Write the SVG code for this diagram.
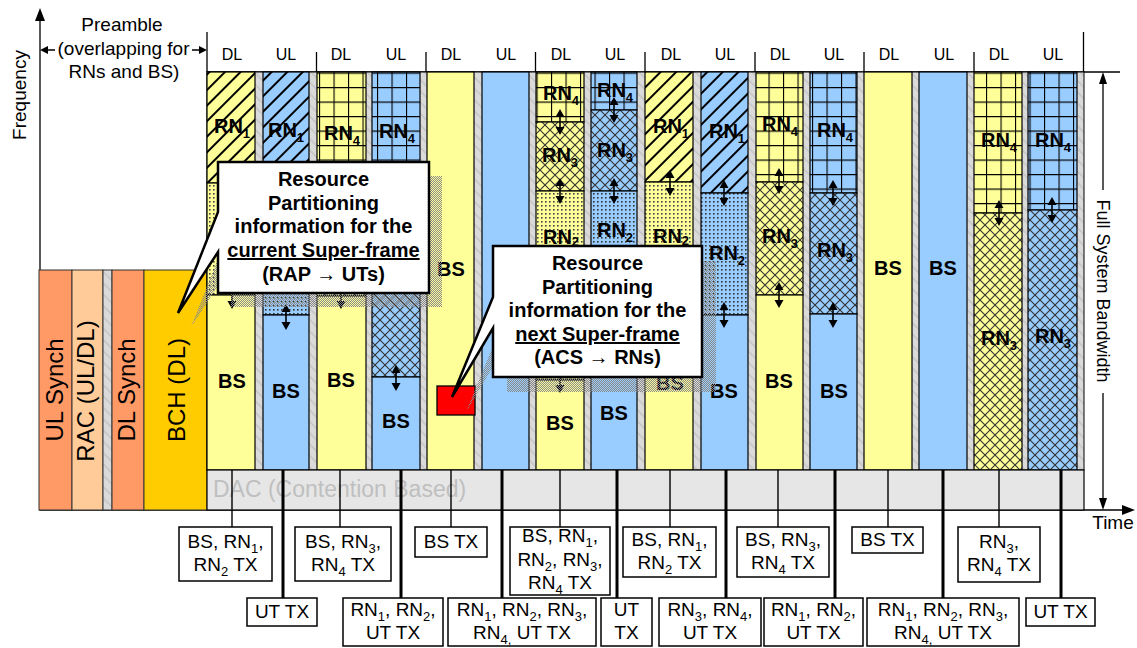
<svg xmlns="http://www.w3.org/2000/svg" xmlns:xlink="http://www.w3.org/1999/xlink" width="1137" height="648" viewBox="0 0 1137 648">
<style>
text{font-family:"Liberation Sans",Arial,sans-serif;fill:#000}
.fy{fill:#ffff99;stroke:#000;stroke-width:1.2}
.fb{fill:#99ccff;stroke:#000;stroke-width:1.2}
.hy{fill:url(#hY);stroke:#000;stroke-width:1.2}
.hb{fill:url(#hB);stroke:#000;stroke-width:1.2}
.gy{fill:url(#gY);stroke:#000;stroke-width:1.2}
.gb{fill:url(#gB);stroke:#000;stroke-width:1.2}
.xy{fill:url(#xY);stroke:#000;stroke-width:1.2}
.xb{fill:url(#xB);stroke:#000;stroke-width:1.2}
.ty{fill:url(#tY);stroke:#000;stroke-width:1.2}
.tb{fill:url(#tB);stroke:#000;stroke-width:1.2}
.cl{font-size:20px;font-weight:bold;text-anchor:middle}
.cs{font-size:13px;font-weight:bold}
.hd{font-size:16px;text-anchor:middle}
.ax{stroke:#000;stroke-width:1.3;fill:none}
.lb{fill:#fff;stroke:#000;stroke-width:1.5}
.lt{font-size:19px;text-anchor:middle}
.s{font-size:13px}
.thin{stroke:#000;stroke-width:1.4}
.thick{stroke:#000;stroke-width:3}
.co{fill:#fff;stroke:#000;stroke-width:2.5;stroke-linejoin:miter}
.sh{fill:url(#shd)}
.ct{font-size:20px;font-weight:bold;text-anchor:middle}
.pre{stroke:#333;stroke-width:1}
.pt{font-size:24px;text-anchor:middle}
</style>
<defs>
<pattern id="hY" patternUnits="userSpaceOnUse" width="11" height="11" patternTransform="rotate(45)"><rect width="11" height="11" fill="#ffff99"/><rect width="2" height="11" fill="#000"/></pattern>
<pattern id="hB" patternUnits="userSpaceOnUse" width="11" height="11" patternTransform="rotate(45)"><rect width="11" height="11" fill="#99ccff"/><rect width="2" height="11" fill="#000"/></pattern>
<pattern id="gY" patternUnits="userSpaceOnUse" width="14.5" height="14.5"><rect width="14.5" height="14.5" fill="#ffff99"/><path d="M0,0H14.5M0,0V14.5" stroke="#000" stroke-width="2.2"/></pattern>
<pattern id="gB" patternUnits="userSpaceOnUse" width="14.5" height="14.5"><rect width="14.5" height="14.5" fill="#99ccff"/><path d="M0,0H14.5M0,0V14.5" stroke="#000" stroke-width="2.2"/></pattern>
<pattern id="xY" patternUnits="userSpaceOnUse" width="10" height="10"><rect width="10" height="10" fill="#ffff99"/><path d="M-1,-1L11,11M11,-1L-1,11" stroke="#333" stroke-width="1.1"/></pattern>
<pattern id="xB" patternUnits="userSpaceOnUse" width="10" height="10"><rect width="10" height="10" fill="#99ccff"/><path d="M-1,-1L11,11M11,-1L-1,11" stroke="#333" stroke-width="1.1"/></pattern>
<pattern id="tY" patternUnits="userSpaceOnUse" width="4" height="4"><rect width="4" height="4" fill="#ffff99"/><rect x="1" y="1" width="1.6" height="1.6" fill="#444"/></pattern>
<pattern id="tB" patternUnits="userSpaceOnUse" width="4" height="4"><rect width="4" height="4" fill="#99ccff"/><rect x="1" y="1" width="1.6" height="1.6" fill="#333"/></pattern>
<pattern id="gp" patternUnits="userSpaceOnUse" width="8" height="8" patternTransform="rotate(-45)"><rect width="8" height="8" fill="#dadada"/><rect width="1.5" height="8" fill="#c4c4c4"/></pattern>
<pattern id="shd" patternUnits="userSpaceOnUse" width="2" height="2"><rect width="1" height="1" fill="#8a8a8a"/><rect x="1" y="1" width="1" height="1" fill="#8a8a8a"/></pattern>
<g id="da"><path d="M0,-8V8" stroke="#000" stroke-width="1.6"/><path d="M0,-13L-4.5,-5H4.5ZM0,13L-4.5,5H4.5Z" fill="#000"/></g>
</defs>

<rect width="1137" height="648" fill="#fff"/>

<!-- axes -->
<g id="axes">
<path class="ax" d="M40,18V510H1125"/>
<path d="M40,8L35,21H45Z" fill="#000"/>
<path d="M1135,510L1122,505V515Z" fill="#000"/>
<text transform="translate(26,95) rotate(-90)" font-size="19" text-anchor="middle">Frequency</text>
<text x="1113" y="529" font-size="19" text-anchor="middle">Time</text>
<path class="ax" d="M207,72H1120"/>
<path class="ax" d="M207,32V72M316.5,52V72M426,52V72M535.5,52V72M645,52V72M755,52V72M864,52V72M974,52V72M1083.5,32V72"/>
<path class="ax" d="M1103,80V190M1103,393V502"/>
<path d="M1103,72L1099,84H1107ZM1103,510L1099,498H1107Z" fill="#000"/>
<text transform="translate(1097,291) rotate(90)" font-size="18" text-anchor="middle">Full System Bandwidth</text>
</g>

<!-- preamble label -->
<g id="preamble-label">
<text x="122" y="31" font-size="19" text-anchor="middle">Preamble</text>
<text x="123.5" y="55" font-size="19" text-anchor="middle">(overlapping for</text>
<text x="124" y="78" font-size="19" text-anchor="middle">RNs and BS)</text>
<path class="ax" d="M45,50H55M192,50H202"/>
<path d="M40,50L48,46V54ZM207,50L199,46V54Z" fill="#000"/>
</g>

<!-- header -->
<g id="header">
<text class="hd" x="232" y="60">DL</text><text class="hd" x="286" y="60">UL</text>
<text class="hd" x="341" y="60">DL</text><text class="hd" x="396" y="60">UL</text>
<text class="hd" x="451" y="60">DL</text><text class="hd" x="506" y="60">UL</text>
<text class="hd" x="561" y="60">DL</text><text class="hd" x="615" y="60">UL</text>
<text class="hd" x="671" y="60">DL</text><text class="hd" x="725" y="60">UL</text>
<text class="hd" x="780" y="60">DL</text><text class="hd" x="834" y="60">UL</text>
<text class="hd" x="889" y="60">DL</text><text class="hd" x="944" y="60">UL</text>
<text class="hd" x="999" y="60">DL</text><text class="hd" x="1053" y="60">UL</text>
</g>

<!-- preamble blocks -->
<g id="ul-synch"><rect class="pre" x="39" y="270" width="33" height="240" fill="#ff9966"/><text class="pt" transform="translate(63,390) rotate(-90)">UL Synch</text></g>
<g id="rac"><rect class="pre" x="72" y="270" width="31" height="240" fill="#ffcc99"/><text class="pt" transform="translate(94,391) rotate(-90)">RAC (UL/DL)</text></g>
<g id="pre-gap"><rect class="pre" x="103" y="270" width="9" height="240" fill="url(#gp)"/></g>
<g id="dl-synch"><rect class="pre" x="112" y="270" width="32" height="240" fill="#ff9966"/><text class="pt" transform="translate(135,390) rotate(-90)">DL Synch</text></g>
<g id="bch"><rect class="pre" x="144" y="270" width="63" height="240" fill="#ffcc00"/><text class="pt" transform="translate(185,390) rotate(-90)">BCH (DL)</text></g>

<!-- gap background -->
<rect x="207" y="72" width="877" height="398" fill="url(#gp)" stroke="#000" stroke-width="1"/>

<g id="c1">
<rect class="hy" x="207" y="72" width="48" height="111"/><rect class="ty" x="207" y="183" width="48" height="112"/><rect class="fy" x="207" y="295" width="48" height="175"/>
<text class="cl" x="232" y="133">RN<tspan class="cs" dy="5">1</tspan></text>
<text class="cl" x="232" y="388">BS</text><use href="#da" x="232" y="296"/>
</g>
<g id="c2">
<rect class="hb" x="263" y="72" width="46" height="128"/><rect class="tb" x="263" y="200" width="46" height="115"/><rect class="fb" x="263" y="315" width="46" height="155"/>
<text class="cl" x="286" y="137">RN<tspan class="cs" dy="5">1</tspan></text>
<text class="cl" x="286" y="398">BS</text><use href="#da" x="286" y="317"/>
</g>
<g id="c3">
<rect class="gy" x="317" y="72" width="49" height="128"/><rect class="xy" x="317" y="200" width="49" height="96"/><rect class="fy" x="317" y="296" width="49" height="174"/>
<text class="cl" x="342" y="140">RN<tspan class="cs" dy="5">4</tspan></text>
<text class="cl" x="341" y="387">BS</text><use href="#da" x="341" y="296"/>
</g>
<g id="c4">
<rect class="gb" x="372" y="72" width="48" height="128"/><rect class="xb" x="372" y="200" width="48" height="177"/><rect class="fb" x="372" y="377" width="48" height="93"/>
<text class="cl" x="397" y="138">RN<tspan class="cs" dy="5">4</tspan></text>
<text class="cl" x="396" y="428">BS</text><use href="#da" x="396" y="378"/>
</g>
<g id="c5">
<rect class="fy" x="427" y="72" width="47" height="398"/>
<text class="cl" x="451" y="276">BS</text>
</g>
<g id="c6">
<rect class="fb" x="482" y="72" width="47" height="398"/>
</g>
<g id="c7">
<rect class="gy" x="536" y="72" width="48" height="50"/><rect class="xy" x="536" y="122" width="48" height="69"/><rect class="ty" x="536" y="191" width="48" height="189"/><rect class="fy" x="536" y="380" width="48" height="90"/>
<text class="cl" x="561" y="100">RN<tspan class="cs" dy="5">4</tspan></text>
<text class="cl" x="560" y="162">RN<tspan class="cs" dy="5">3</tspan></text>
<text class="cl" x="561" y="244">RN<tspan class="cs" dy="2">2</tspan></text>
<text class="cl" x="560" y="430">BS</text>
<use href="#da" x="560" y="122"/><use href="#da" x="560" y="191"/><use href="#da" x="560" y="380"/>
</g>
<g id="c8">
<rect class="gb" x="591" y="72" width="46" height="38"/><rect class="xb" x="591" y="110" width="46" height="81"/><rect class="tb" x="591" y="191" width="46" height="169"/><rect class="fb" x="591" y="360" width="46" height="110"/>
<text class="cl" x="615" y="97">RN<tspan class="cs" dy="5">4</tspan></text>
<text class="cl" x="615" y="157">RN<tspan class="cs" dy="5">3</tspan></text>
<text class="cl" x="615" y="237">RN<tspan class="cs" dy="5">2</tspan></text>
<text class="cl" x="614" y="420">BS</text>
<use href="#da" x="614" y="110"/><use href="#da" x="614" y="191"/><use href="#da" x="614" y="360"/>
</g>
<g id="c9">
<rect class="hy" x="645" y="72" width="48" height="110"/><rect class="ty" x="645" y="182" width="48" height="173"/><rect class="fy" x="645" y="355" width="48" height="115"/>
<text class="cl" x="671" y="243">RN<tspan class="cs" dy="2">2</tspan></text>
<text class="cl" x="671" y="133">RN<tspan class="cs" dy="5">1</tspan></text>
<text class="cl" x="670" y="390">BS</text>
<use href="#da" x="670" y="183"/><use href="#da" x="670" y="355"/>
</g>
<g id="c10">
<rect class="hb" x="701" y="72" width="47" height="121"/><rect class="tb" x="701" y="193" width="47" height="122"/><rect class="fb" x="701" y="315" width="47" height="155"/>
<text class="cl" x="727" y="138">RN<tspan class="cs" dy="5">1</tspan></text>
<text class="cl" x="727" y="260">RN<tspan class="cs" dy="5">2</tspan></text>
<text class="cl" x="724" y="398">BS</text>
<use href="#da" x="724" y="193"/><use href="#da" x="724" y="315"/>
</g>
<g id="c11">
<rect class="gy" x="756" y="72" width="47" height="110"/><rect class="xy" x="756" y="182" width="47" height="113"/><rect class="fy" x="756" y="295" width="47" height="175"/>
<text class="cl" x="780" y="131">RN<tspan class="cs" dy="5">4</tspan></text>
<text class="cl" x="780" y="243">RN<tspan class="cs" dy="5">3</tspan></text>
<text class="cl" x="779" y="388">BS</text>
<use href="#da" x="779" y="181"/><use href="#da" x="779" y="295"/>
</g>
<g id="c12">
<rect class="gb" x="810" y="72" width="47" height="121"/><rect class="xb" x="810" y="193" width="47" height="121"/><rect class="fb" x="810" y="314" width="47" height="156"/>
<text class="cl" x="835" y="137">RN<tspan class="cs" dy="5">4</tspan></text>
<text class="cl" x="835" y="257">RN<tspan class="cs" dy="5">3</tspan></text>
<text class="cl" x="834" y="398">BS</text>
<use href="#da" x="833" y="193"/><use href="#da" x="833" y="315"/>
</g>
<g id="c13">
<rect class="fy" x="864" y="72" width="48" height="398"/>
<text class="cl" x="888" y="275">BS</text>
</g>
<g id="c14">
<rect class="fb" x="919" y="72" width="48" height="398"/>
<text class="cl" x="943" y="275">BS</text>
</g>
<g id="c15">
<rect class="gy" x="974" y="72" width="48" height="141"/><rect class="xy" x="974" y="213" width="48" height="257"/>
<text class="cl" x="999" y="147">RN<tspan class="cs" dy="5">4</tspan></text>
<text class="cl" x="999" y="345">RN<tspan class="cs" dy="5">3</tspan></text>
<use href="#da" x="999" y="213"/>
</g>
<g id="c16">
<rect class="gb" x="1028" y="72" width="49" height="138"/><rect class="xb" x="1028" y="210" width="49" height="260"/>
<text class="cl" x="1053" y="147">RN<tspan class="cs" dy="5">4</tspan></text>
<text class="cl" x="1053" y="343">RN<tspan class="cs" dy="5">3</tspan></text>
<use href="#da" x="1052" y="210"/>
</g>

<!-- DAC band -->
<g id="dac">
<rect x="207" y="470" width="877" height="40" fill="#e6e6e6" stroke="#000" stroke-width="1.2"/>
<text x="213" y="497" font-size="23" style="fill:#bfbfbf">DAC (Contention Based)</text>
</g>

<!-- connectors -->
<g id="connectors">
<path class="thin" d="M232,470V527M340,470V527M451,470V527M560,470V527M670,470V527M778,470V527M888,470V527M999,470V527"/>
<path class="thick" d="M283,470V598M401,470V598M502,470V598M617,470V598M726,470V598M835,470V598M943,470V598M1061,470V598"/>
</g>

<!-- label boxes -->
<g id="b1"><rect class="lb" x="179" y="527" width="93" height="54"/><text class="lt" x="225.5" y="548">BS, RN<tspan class="s" dy="5">1</tspan><tspan dy="-5">,</tspan></text><text class="lt" x="225.5" y="571">RN<tspan class="s" dy="5">2</tspan><tspan dy="-5"> TX</tspan></text></g>
<g id="b2"><rect class="lb" x="247" y="598" width="70" height="28"/><text class="lt" x="282" y="618">UT TX</text></g>
<g id="b3"><rect class="lb" x="295" y="527" width="96" height="54"/><text class="lt" x="343" y="548">BS, RN<tspan class="s" dy="5">3</tspan><tspan dy="-5">,</tspan></text><text class="lt" x="343" y="571">RN<tspan class="s" dy="5">4</tspan><tspan dy="-5"> TX</tspan></text></g>
<g id="b4"><rect class="lb" x="343" y="598" width="100" height="48"/><text class="lt" x="393" y="616">RN<tspan class="s" dy="5">1</tspan><tspan dy="-5">, RN</tspan><tspan class="s" dy="5">2</tspan><tspan dy="-5">,</tspan></text><text class="lt" x="393" y="639">UT TX</text></g>
<g id="b5"><rect class="lb" x="415" y="527" width="72" height="30"/><text class="lt" x="451" y="548">BS TX</text></g>
<g id="b6"><rect class="lb" x="448" y="598" width="148" height="48"/><text class="lt" x="522" y="616">RN<tspan class="s" dy="5">1</tspan><tspan dy="-5">, RN</tspan><tspan class="s" dy="5">2</tspan><tspan dy="-5">, RN</tspan><tspan class="s" dy="5">3</tspan><tspan dy="-5">,</tspan></text><text class="lt" x="522" y="639">RN<tspan class="s" dy="5">4,</tspan><tspan dy="-5"> UT TX</tspan></text></g>
<g id="b7"><rect class="lb" x="510" y="527" width="100" height="68"/><text class="lt" x="560" y="542">BS, RN<tspan class="s" dy="5">1</tspan><tspan dy="-5">,</tspan></text><text class="lt" x="560" y="566">RN<tspan class="s" dy="5">2</tspan><tspan dy="-5">, RN</tspan><tspan class="s" dy="5">3</tspan><tspan dy="-5">,</tspan></text><text class="lt" x="560" y="589">RN<tspan class="s" dy="5">4</tspan><tspan dy="-5"> TX</tspan></text></g>
<g id="b8"><rect class="lb" x="601" y="598" width="51" height="48"/><text class="lt" x="626.5" y="616">UT</text><text class="lt" x="626.5" y="639">TX</text></g>
<g id="b9"><rect class="lb" x="623" y="527" width="93" height="50"/><text class="lt" x="669.5" y="546">BS, RN<tspan class="s" dy="5">1</tspan><tspan dy="-5">,</tspan></text><text class="lt" x="669.5" y="569">RN<tspan class="s" dy="5">2</tspan><tspan dy="-5"> TX</tspan></text></g>
<g id="b10"><rect class="lb" x="659" y="598" width="102" height="48"/><text class="lt" x="710" y="616">RN<tspan class="s" dy="5">3</tspan><tspan dy="-5">, RN</tspan><tspan class="s" dy="5">4</tspan><tspan dy="-5">,</tspan></text><text class="lt" x="710" y="639">UT TX</text></g>
<g id="b11"><rect class="lb" x="737" y="527" width="92" height="50"/><text class="lt" x="783" y="546">BS, RN<tspan class="s" dy="5">3</tspan><tspan dy="-5">,</tspan></text><text class="lt" x="783" y="569">RN<tspan class="s" dy="5">4</tspan><tspan dy="-5"> TX</tspan></text></g>
<g id="b12"><rect class="lb" x="764" y="598" width="99" height="48"/><text class="lt" x="813.5" y="616">RN<tspan class="s" dy="5">1</tspan><tspan dy="-5">, RN</tspan><tspan class="s" dy="5">2</tspan><tspan dy="-5">,</tspan></text><text class="lt" x="813.5" y="639">UT TX</text></g>
<g id="b13"><rect class="lb" x="852" y="527" width="71" height="26"/><text class="lt" x="887.5" y="546">BS TX</text></g>
<g id="b14"><rect class="lb" x="867" y="598" width="152" height="48"/><text class="lt" x="943" y="616">RN<tspan class="s" dy="5">1</tspan><tspan dy="-5">, RN</tspan><tspan class="s" dy="5">2</tspan><tspan dy="-5">, RN</tspan><tspan class="s" dy="5">3</tspan><tspan dy="-5">,</tspan></text><text class="lt" x="943" y="639">RN<tspan class="s" dy="5">4,</tspan><tspan dy="-5"> UT TX</tspan></text></g>
<g id="b15"><rect class="lb" x="958" y="527" width="82" height="55"/><text class="lt" x="999" y="548">RN<tspan class="s" dy="5">3</tspan><tspan dy="-5">,</tspan></text><text class="lt" x="999" y="571">RN<tspan class="s" dy="5">4</tspan><tspan dy="-5"> TX</tspan></text></g>
<g id="b16"><rect class="lb" x="1026" y="598" width="69" height="28"/><text class="lt" x="1060.5" y="618">UT TX</text></g>

<!-- red marker -->
<g id="red-marker"><rect x="437" y="386" width="38" height="29" fill="#ff0000" stroke="#000" stroke-width="1.3"/></g>

<!-- callout 1 -->
<g id="callout-current">
<path class="sh" transform="translate(13,14)" d="M218,162H429V293H218V252L178,313L218,212Z"/>
<path class="co" d="M218,162H429V293H218V252L178,313L218,212Z"/>
<text class="ct" x="323.5" y="186">Resource</text>
<text class="ct" x="323.5" y="210">Partitioning</text>
<text class="ct" x="323.5" y="233">information for the</text>
<text class="ct" x="323.5" y="257" text-decoration="underline">current Super-frame</text>
<text class="ct" x="323.5" y="281">(RAP → UTs)</text>
</g>

<!-- callout 2 -->
<g id="callout-next">
<path class="sh" transform="translate(14,15)" d="M493,246H702V377H493V328L452,397L493,297Z"/>
<path class="co" d="M493,246H702V377H493V328L452,397L493,297Z"/>
<text class="ct" x="597.5" y="270">Resource</text>
<text class="ct" x="597.5" y="294">Partitioning</text>
<text class="ct" x="597.5" y="317">information for the</text>
<text class="ct" x="597.5" y="341" text-decoration="underline">next Super-frame</text>
<text class="ct" x="597.5" y="364">(ACS → RNs)</text>
</g>
</svg>
